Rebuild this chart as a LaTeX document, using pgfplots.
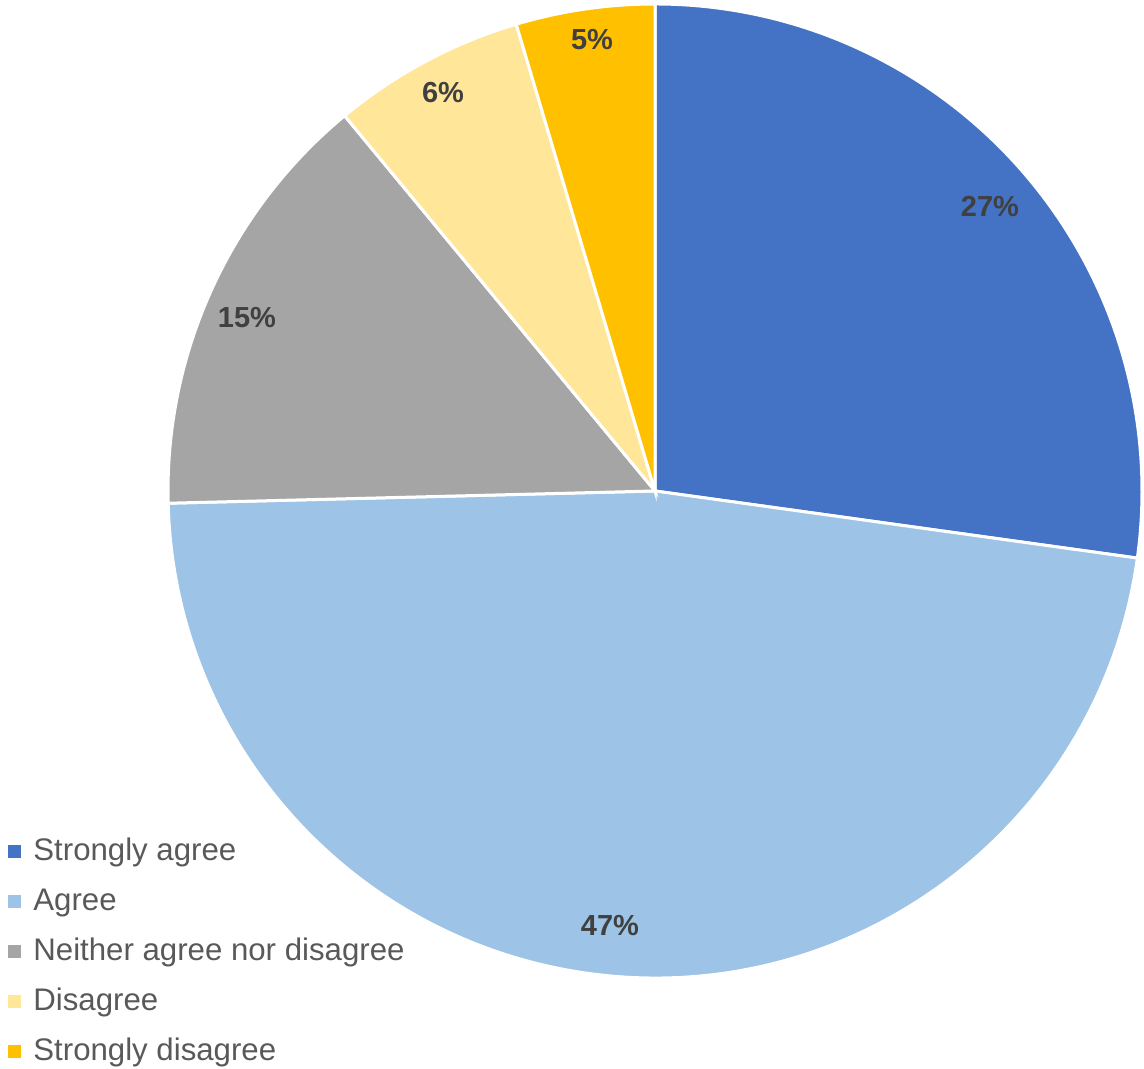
\documentclass[border=0pt]{standalone}
\usepackage{pgfplots}
\pgfplotsset{compat=1.18}
\usepackage{fontspec}
\setmainfont{Liberation Sans}
\definecolor{c1}{HTML}{4472C4}
\definecolor{c2}{HTML}{9DC3E6}
\definecolor{c3}{HTML}{A5A5A5}
\definecolor{c4}{HTML}{FFE699}
\definecolor{c5}{HTML}{FFC000}
\definecolor{lbl}{HTML}{404040}
\definecolor{leg}{HTML}{595959}
\begin{document}
\begin{tikzpicture}
% slice values (percent), clockwise from top
\def\vA{27.2}\def\vB{47.4}\def\vC{14.4}\def\vD{6.4}\def\vE{4.6}
\pgfmathsetmacro\aA{90}
\pgfmathsetmacro\aB{\aA-3.6*\vA}
\pgfmathsetmacro\aC{\aB-3.6*\vB}
\pgfmathsetmacro\aD{\aC-3.6*\vC}
\pgfmathsetmacro\aE{\aD-3.6*\vD}
\pgfmathsetmacro\aF{\aE-3.6*\vE}
\begin{axis}[
  width=572pt, height=534.5pt, scale only axis,
  xmin=0, xmax=1144, ymin=0, ymax=1069,
  hide axis, clip=false,
]
\coordinate (ll) at (axis cs:0,0);
\coordinate (ur) at (axis cs:1144,1069);
\def\R{243.5pt}
\fill[c1, draw=white, line width=1.5pt] (axis cs:655,578) -- ++(\aA:\R) arc[start angle=\aA, end angle=\aB, radius=\R] -- cycle;
\fill[c2, draw=white, line width=1.5pt] (axis cs:655,578) -- ++(\aB:\R) arc[start angle=\aB, end angle=\aC, radius=\R] -- cycle;
\fill[c3, draw=white, line width=1.5pt] (axis cs:655,578) -- ++(\aC:\R) arc[start angle=\aC, end angle=\aD, radius=\R] -- cycle;
\fill[c4, draw=white, line width=1.5pt] (axis cs:655,578) -- ++(\aD:\R) arc[start angle=\aD, end angle=\aE, radius=\R] -- cycle;
\fill[c5, draw=white, line width=1.5pt] (axis cs:655,578) -- ++(\aE:\R) arc[start angle=\aE, end angle=\aF, radius=\R] -- cycle;
% data labels
\begin{scope}[every node/.style={font=\fontsize{14.5pt}{17pt}\selectfont\bfseries, text=lbl}]
\node at (axis cs:990,862) {27\%};
\node at (axis cs:610,143) {47\%};
\node at (axis cs:247,751) {15\%};
\node at (axis cs:443,976) {6\%};
\node at (axis cs:592,1029) {5\%};
\end{scope}
% legend
\begin{scope}[every node/.style={font=\fontsize{15.6pt}{18pt}\selectfont, text=leg, anchor=base west, inner sep=0pt}]
\fill[c1] (axis cs:8,211) rectangle (axis cs:21,224);
\node at (axis cs:33,208) {Strongly agree};
\fill[c2] (axis cs:8,161) rectangle (axis cs:21,174);
\node at (axis cs:33,158) {Agree};
\fill[c3] (axis cs:8,111) rectangle (axis cs:21,124);
\node at (axis cs:33,108) {Neither agree nor disagree};
\fill[c4] (axis cs:8,61) rectangle (axis cs:21,74);
\node at (axis cs:33,58) {Disagree};
\fill[c5] (axis cs:8,11) rectangle (axis cs:21,24);
\node at (axis cs:33,8) {Strongly disagree};
\end{scope}
\end{axis}
\pgfresetboundingbox
\path[use as bounding box] (ll) rectangle (ur);
\end{tikzpicture}
\end{document}
